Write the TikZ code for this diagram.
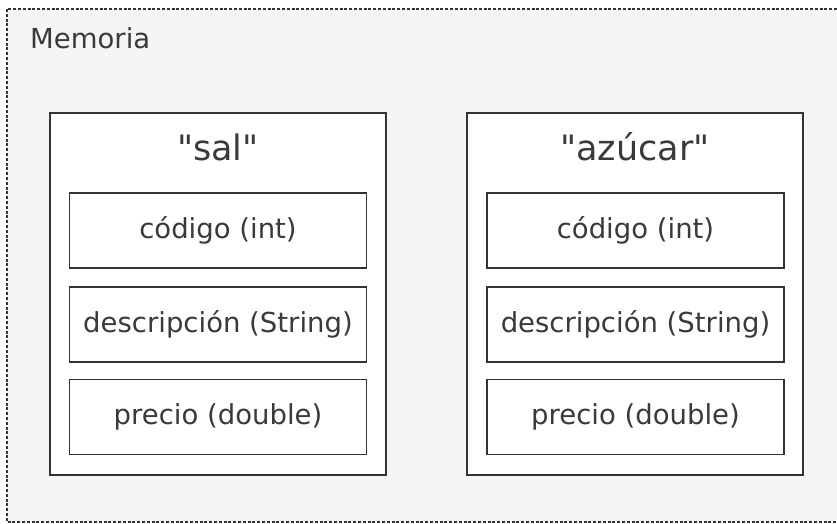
\documentclass[tikz,border=0pt]{standalone}
\usepackage{fontspec}
\newfontfamily\diagfont{DejaVu Sans}
\usetikzlibrary{positioning}
\definecolor{linegray}{HTML}{333333}
\definecolor{textgray}{HTML}{3A3A3A}
\definecolor{memgray}{HTML}{F5F5F5}
\tikzset{
    objbox/.style={draw=linegray, fill=white, line width=1.7pt, minimum width=336pt, minimum height=362pt, inner sep=0pt},
    fieldbox/.style={draw=linegray, fill=white, line width=1.7pt, minimum width=297pt, minimum height=75pt, inner sep=0pt, text=textgray, font=\diagfont\fontsize{27.5}{33}\selectfont},
    titlelabel/.style={text=textgray, inner sep=0pt, anchor=base, font=\diagfont\fontsize{35}{42}\selectfont}
}

\begin{document}
\begin{tikzpicture}[x=1pt, y=-1pt]
    \clip (0,0) rectangle (837,524);
    % Memory area
    \draw[fill=memgray, draw=linegray, line width=1.6pt, dash pattern=on 3pt off 1.8pt] (7,9) rectangle (845,522);
    \node[text=textgray, inner sep=0pt, anchor=base west, font=\diagfont\fontsize{27.5}{33}\selectfont] (memlabel) at (30,49) {Memoria};

    % Object "sal"
    \node[objbox] (sal) at (218,294) {};
    \node[titlelabel] (saltitle) at (218,160) {"sal"};
    \node[fieldbox] (salcode) at (218,230.5) {código (int)};
    \node[fieldbox] (saldesc) at (218,324.5) {descripción (String)};
    \node[fieldbox] (salprice) at (218,417) {precio (double)};

    % Object "azucar"
    \node[objbox] (azucar) at (635,294) {};
    \node[titlelabel] (azucartitle) at (635,160) {"azúcar"};
    \node[fieldbox] (azucarcode) at (635.5,230.5) {código (int)};
    \node[fieldbox] (azucardesc) at (635.5,324.5) {descripción (String)};
    \node[fieldbox] (azucarprice) at (635.5,417) {precio (double)};
\end{tikzpicture}
\end{document}
